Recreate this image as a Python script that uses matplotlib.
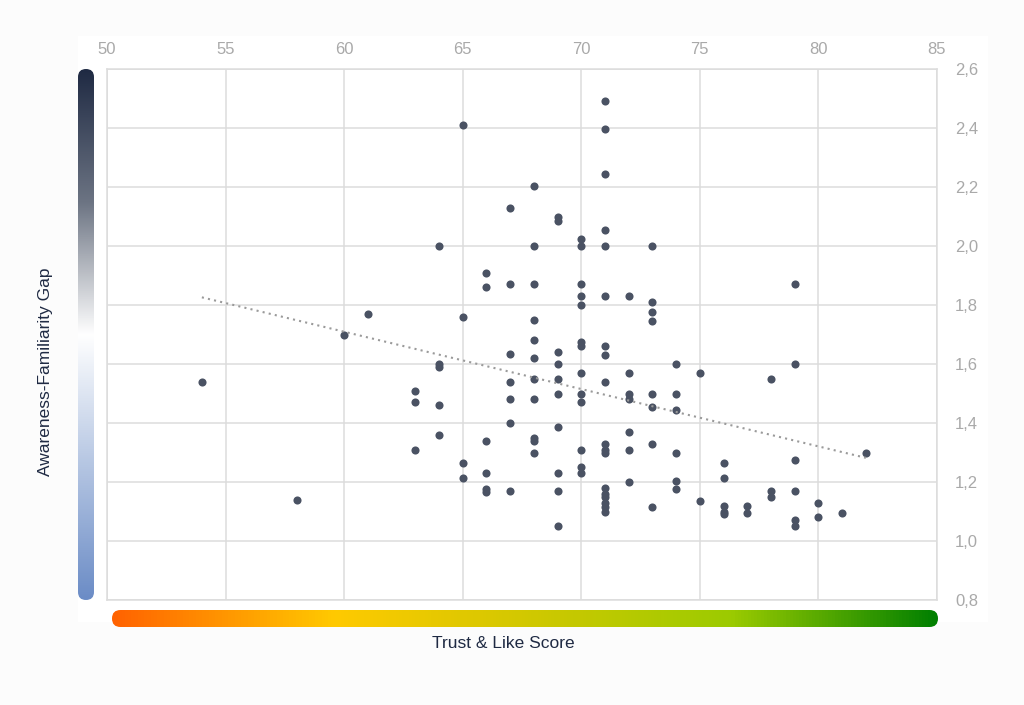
import numpy as np
import matplotlib
matplotlib.use("Agg")
import matplotlib.pyplot as plt
from matplotlib.patches import FancyBboxPatch, Rectangle
from matplotlib.colors import LinearSegmentedColormap

# ---- data ----
trust_score = [54, 58, 60, 61,
               63, 63, 63,
               64, 64, 64, 64, 64,
               65, 65, 65, 65,
               66, 66, 66, 66, 66, 66,
               67, 67, 67, 67, 67, 67, 67,
               68, 68, 68, 68, 68, 68, 68, 68, 68, 68, 68,
               69, 69, 69, 69, 69, 69, 69, 69, 69, 69,
               70, 70, 70, 70, 70, 70, 70, 70, 70, 70, 70, 70, 70,
               71, 71, 71, 71, 71, 71, 71, 71, 71, 71, 71, 71, 71, 71, 71, 71, 71, 71,
               72, 72, 72, 72, 72, 72, 72,
               73, 73, 73, 73, 73, 73, 73, 73,
               74, 74, 74, 74, 74, 74,
               75, 75,
               76, 76, 76, 76, 76,
               77, 77,
               78, 78, 78,
               79, 79, 79, 79, 79, 79,
               80, 80,
               81, 82]
gap = [1.54, 1.14, 1.70, 1.77,
       1.51, 1.47, 1.31,
       2.00, 1.60, 1.59, 1.46, 1.36,
       2.41, 1.76, 1.265, 1.215,
       1.91, 1.86, 1.34, 1.23, 1.175, 1.165,
       2.13, 1.87, 1.635, 1.54, 1.48, 1.40, 1.17,
       2.205, 2.00, 1.87, 1.75, 1.68, 1.62, 1.55, 1.48, 1.35, 1.34, 1.30,
       2.10, 2.085, 1.64, 1.60, 1.55, 1.50, 1.385, 1.23, 1.17, 1.05,
       2.025, 2.00, 1.87, 1.83, 1.80, 1.675, 1.66, 1.57, 1.50, 1.47, 1.31, 1.25, 1.23,
       2.49, 2.395, 2.245, 2.055, 2.00, 1.83, 1.66, 1.63, 1.54, 1.33, 1.31, 1.30, 1.18, 1.16, 1.15, 1.13, 1.115, 1.10,
       1.83, 1.57, 1.50, 1.48, 1.37, 1.31, 1.20,
       2.00, 1.81, 1.775, 1.745, 1.50, 1.455, 1.33, 1.115,
       1.60, 1.50, 1.445, 1.30, 1.205, 1.175,
       1.57, 1.135,
       1.265, 1.215, 1.12, 1.10, 1.09,
       1.12, 1.095,
       1.55, 1.17, 1.15,
       1.87, 1.60, 1.275, 1.17, 1.07, 1.05,
       1.13, 1.08,
       1.095, 1.30]

x_ticks = [50, 55, 60, 65, 70, 75, 80, 85]
y_ticks = [0.8, 1.0, 1.2, 1.4, 1.6, 1.8, 2.0, 2.2, 2.4, 2.6]
y_tick_labels = ["0,8", "1,0", "1,2", "1,4", "1,6", "1,8", "2,0", "2,2", "2,4", "2,6"]
x_title = "Trust & Like Score"
y_title = "Awareness-Familiarity Gap"

plt.rcParams['font.family'] = ['Liberation Sans Narrow', 'Liberation Sans', 'DejaVu Sans']

W, H = 1024, 705
fig = plt.figure(figsize=(W / 100, H / 100), dpi=100, facecolor="#fcfcfc")

# background / decoration axes in pixel coordinates
bg = fig.add_axes([0, 0, 1, 1], zorder=0)
bg.set_xlim(0, W)
bg.set_ylim(H, 0)
bg.axis("off")
bg.add_patch(Rectangle((78, 36), 910, 586, facecolor="white", edgecolor="none"))

# vertical gradient bar (left)
vcmap = LinearSegmentedColormap.from_list(
    "v", [(0.0, "#1f2a43"), (0.25, "#6c7483"), (0.5, "#ffffff"),
          (0.75, "#b4c5e2"), (1.0, "#6b8cc6")])
grad_v = np.linspace(0, 1, 256).reshape(-1, 1)
vx0, vy0, vw, vh = 78, 69, 16, 531
im = bg.imshow(grad_v, cmap=vcmap, aspect="auto",
               extent=(vx0, vx0 + vw, vy0 + vh, vy0), zorder=1)
clip = FancyBboxPatch((vx0, vy0), vw, vh, boxstyle="round,pad=0,rounding_size=8",
                      transform=bg.transData, facecolor="none", edgecolor="none")
bg.add_patch(clip)
im.set_clip_path(clip)

# horizontal gradient bar (bottom)
hcmap = LinearSegmentedColormap.from_list(
    "h", [(0.0, "#ff6200"), (0.27, "#ffca00"), (0.5, "#d2c800"),
          (0.75, "#9ccb00"), (1.0, "#007f00")])
grad_h = np.linspace(0, 1, 256).reshape(1, -1)
hx0, hy0, hw, hh = 112, 610, 826, 17
im2 = bg.imshow(grad_h, cmap=hcmap, aspect="auto",
                extent=(hx0, hx0 + hw, hy0 + hh, hy0), zorder=1)
clip2 = FancyBboxPatch((hx0, hy0), hw, hh, boxstyle="round,pad=0,rounding_size=8.5",
                       transform=bg.transData, facecolor="none", edgecolor="none")
bg.add_patch(clip2)
im2.set_clip_path(clip2)

bg.text(503, 643, x_title, ha="center", va="center", fontsize=12.5,
        color="#1f2a43", family=['Liberation Sans', 'DejaVu Sans'])
bg.text(46, 372, y_title, ha="center", va="center", rotation=90, fontsize=12.5,
        color="#1f2a43", family=['Liberation Sans', 'DejaVu Sans'])

# main axes
ax = fig.add_axes([107 / W, 1 - 600 / H, 830 / W, 531 / H], zorder=2)
ax.set_facecolor("white")
ax.set_xlim(50, 85)
ax.set_ylim(0.8, 2.6)
ax.set_xticks(x_ticks)
ax.set_yticks(y_ticks)
ax.set_yticklabels(y_tick_labels)
ax.xaxis.tick_top()
ax.yaxis.tick_right()
ax.tick_params(axis="x", length=0, pad=9, labelsize=12, labelcolor="#a9a9a9")
ax.tick_params(axis="y", length=0, pad=13, labelsize=12, labelcolor="#a9a9a9")
ax.grid(True, color="#dcdcdc", linewidth=1.1)
ax.set_axisbelow(True)
for s in ax.spines.values():
    s.set_color("#dcdcdc")
    s.set_linewidth(1.1)

ax.scatter(trust_score, gap, s=34, color="#4a5263", zorder=3, linewidths=0)

# linear trend line
xs = np.array(trust_score, dtype=float)
ys = np.array(gap, dtype=float)
m, b = np.polyfit(xs, ys, 1)
xl = np.array([xs.min(), xs.max()])
ax.plot(xl, m * xl + b, linestyle=(0, (1, 2)), color="#9a9a9a", linewidth=1.5, zorder=4)

fig.savefig("out.png", dpi=100, facecolor=fig.get_facecolor())
